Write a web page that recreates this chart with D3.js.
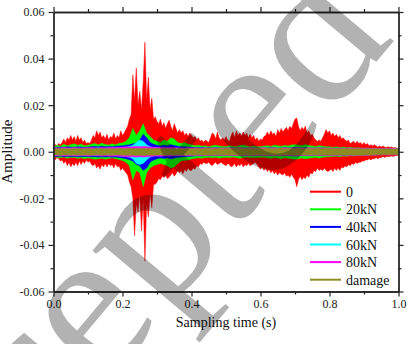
<!DOCTYPE html>
<html><head><meta charset="utf-8">
<script src="https://cdn.jsdelivr.net/npm/d3@7"></script>
<style>body{margin:0;background:#fff}svg{display:block}</style>
</head><body>
<script>
// ---- data (amplitude in units of 0.001, evenly sampled over 0..1 s) ----
const xTicks = [0, 0.2, 0.4, 0.6, 0.8, 1.0];
const yTicks = [-0.06, -0.04, -0.02, 0.00, 0.02, 0.04, 0.06];
const seriesNames = ["0", "20kN", "40kN", "60kN", "80kN", "damage"];
const seriesColors = ["#ff0000", "#00ff00", "#0000ff", "#00ffff", "#ff00ff", "#8c8c22"];

const redUpper = [4,3,2.5,3.5,3,4,5.5,4,6,5,7,5,6.5,4.5,7,5,6,4,5,3.5,
 4,3.5,5,7,6,9,7,8.5,6,7,5.5,7.5,5,6.5,6,8,5.5,7,6,9,
 7,8,9.5,11,14,16,33,22,36,20,26,18,30,47,22,32,18,23,14,15,
 13,12,14,11,12.5,10,12,13.5,11,9,12,10,8,9.5,8,9,7,8,6.5,8,
 7,6,6.5,5,6,4.5,5,4,5,4.5,4,6,8,7.5,5.5,8.5,6,5,6,5,
 6.5,5,4.5,7,8.5,6,9,7,8,6.5,8.5,7,8,6,7.5,6,7,5,6,4.5,
 5.5,5,6.5,7,8.5,7,9,7.5,8,6.5,9.5,8,10,8.5,9.5,10.5,9,11,10,12,
 14,14.5,11,9,10.5,9.5,11,8,9,7,7.5,6,5,4.5,5,4.5,6,7.5,9.5,8,
 9,7,8,6.5,7.5,6,7,5.5,6,5,4.5,5,3.5,4,4.5,3.5,4.5,3.5,4,3,
 4,3,3.5,2.5,3,2.5,3,2.5,2,2.5,2,2.5,2,1.8,2.2,1.8,2,1.6,1.8,1.5,
 1.5];
const redLower = [3,3.5,2.5,3,4,3.5,5,4,6,4.5,6.5,5,6,4.5,6,4,5.5,4,5,3.5,
 4.5,4,5.5,6,5,7,6,7.5,5.5,6.5,5,6.5,5,6,5.5,7,5,6.5,6,8,
 7,8,9,10,13,15,20,36,22,26,18,34,20,47,22,28,18,24,14,14,
 13,11.5,12,10.5,11,10,11.5,11,10,9,10.5,9.5,8,9,8,9.5,7.5,8.5,7,8,
 8,7,7.5,6,6.5,5,5.5,4.5,5,5,4.5,5.5,6,5,4.5,5.5,5,4.5,5,5.5,
 6,5,5.5,6.5,6,5,6.5,5.5,6,5,6.5,5.5,6,5,6,5.5,5,4.5,5.5,6.5,
 7.5,6.5,8,7,8.5,7.5,9,8,9.5,8.5,10,9,9.5,10,9,10.5,10,11,9.5,11,
 12,15,12,10.5,12,11,11.5,10,11,9,9.5,8,8.5,7,8,7.5,8,7,8,8.5,
 8,7.5,8.5,7,8,7,8,6.5,7,6,6.5,5.5,6,5,5.5,4.5,5,4.5,4.5,4,
 4,3.5,3.5,3,3.5,3,3,2.5,3,2.5,2.5,2,2.5,2,2,2,1.8,2,1.7,1.6,
 1.5];
const greenUpper = [2,2.8,2.4,3.2,2.6,3,3.4,2.8,3.2,2.6,
 2.8,3.2,3.5,3,3.6,3.1,2.9,3.4,3,3.6,
 3.8,4.5,6,10,7,9,12,8,6.5,5,
 4.5,4,5,4.5,6,5.5,4,3.5,4,3.2,
 3,2.6,2.8,2.4,2.6,2.2,2.6,2.8,2.5,2.3,
 2.2,2.6,2.3,2.2,2.6,2.8,2.5,2.2,2.4,2.2,
 2.2,2.4,2.6,2.3,2.8,2.6,2.4,2.7,2.5,2.9,
 3,2.8,2.6,3,2.7,2.5,2.3,2.6,2.4,2.1,
 2.1,1.9,2.1,1.8,2,1.7,1.9,1.6,1.7,1.6,
 1.5,1.6,1.4,1.5,1.4,1.3,1.4,1.3,1.3,1.2,
 1.2];
const greenLower = [2,2.4,2.6,2.3,2.8,2.5,2.4,2.9,2.6,3,
 2.7,2.9,3.2,3,2.8,3.2,2.9,2.7,3,3.3,
 3.8,4.5,6,12,8,9,15,9,7,6,
 5.5,5,5.5,6,7,6.5,5,4,3.6,3.5,
 3,2.8,2.6,2.8,2.5,2.4,2.6,2.4,2.7,2.5,
 2.4,2.6,2.3,2.5,2.8,2.5,2.3,2.6,2.4,2.5,
 2.5,2.3,2.6,2.8,2.5,2.7,2.9,2.6,2.8,3,
 3.2,3,2.7,3,2.8,2.6,2.5,2.7,2.4,2.2,
 2.2,2,1.9,2.1,1.8,1.9,1.7,1.8,1.6,1.6,
 1.5,1.5,1.4,1.4,1.3,1.3,1.2,1.2,1.2,1.1,
 1.1];
const blueUpper = [1.8,1.9,2,1.9,2.1,2,1.9,2.2,2,1.9,
 2,2.2,2.3,2.1,2.4,2.2,2.3,2.1,2.4,2.5,
 2.6,2.8,3,3.4,3.8,5,7.5,6,4,3.2,
 2.8,2.5,2.8,2.6,3,2.7,2.4,2.2,2.2,2,
 1.9,1.8,1.7,1.8,1.6,1.7,1.6,1.7,1.6,1.5,
 1.6,1.5,1.6,1.5,1.6,1.5,1.6,1.5,1.6,1.5,
 1.6,1.5,1.6,1.7,1.6,1.5,1.6,1.7,1.6,1.7,
 1.8,1.7,1.6,1.7,1.6,1.5,1.6,1.5,1.6,1.5,
 1.5,1.4,1.5,1.4,1.5,1.4,1.4,1.3,1.4,1.3,
 1.3,1.3,1.2,1.3,1.2,1.2,1.2,1.2,1.1,1.1,
 1.1];
const blueLower = [1.9,2,1.9,2.1,2,2.1,2,2.2,2.1,2,
 2.1,2.2,2.1,2.3,2.2,2.3,2.2,2.4,2.3,2.5,
 2.7,3,3.4,4,5.5,6,8,7,4.5,3.5,
 3,2.7,2.9,2.6,3,2.7,2.4,2.3,2.1,2,
 1.9,1.8,1.7,1.8,1.6,1.7,1.6,1.7,1.6,1.5,
 1.6,1.5,1.6,1.5,1.6,1.5,1.6,1.5,1.6,1.5,
 1.6,1.5,1.6,1.7,1.6,1.5,1.6,1.7,1.6,1.7,
 1.8,1.7,1.6,1.7,1.6,1.5,1.6,1.5,1.6,1.5,
 1.5,1.4,1.5,1.4,1.4,1.3,1.4,1.3,1.3,1.2,
 1.2,1.2,1.2,1.2,1.1,1.1,1.1,1.1,1.1,1,
 1];
const cyanUpper = [1.4,1.5,1.6,1.5,1.4,1.6,1.5,1.6,1.5,1.5,
 1.6,1.5,1.6,1.7,1.6,1.5,1.7,1.6,1.7,1.8,
 1.9,2,2.3,2.8,4,5,4.5,3,2.2,1.8,
 1.7,1.6,1.7,1.5,1.6,1.5,1.5,1.5,1.4,1.4,
 1.4,1.5,1.4,1.4,1.5,1.4,1.4,1.5,1.4,1.4,
 1.4,1.5,1.4,1.4,1.5,1.4,1.4,1.5,1.4,1.4,
 1.4,1.5,1.4,1.4,1.5,1.4,1.4,1.5,1.4,1.4,
 1.5,1.5,1.4,1.4,1.5,1.4,1.4,1.5,1.4,1.4,
 1.4,1.4,1.3,1.4,1.3,1.3,1.4,1.3,1.3,1.3,
 1.3,1.3,1.2,1.3,1.2,1.2,1.2,1.2,1.2,1.2,
 1.2];
const cyanLower = [1.4,1.5,1.6,1.5,1.4,1.6,1.5,1.6,1.5,1.5,
 1.6,1.5,1.6,1.7,1.6,1.5,1.7,1.6,1.7,1.8,
 1.9,2,2.4,3,5,5.5,5,3.5,2.3,1.8,
 1.7,1.6,1.7,1.5,1.6,1.5,1.5,1.5,1.4,1.4,
 1.4,1.5,1.4,1.4,1.5,1.4,1.4,1.5,1.4,1.4,
 1.4,1.5,1.4,1.4,1.5,1.4,1.4,1.5,1.4,1.4,
 1.4,1.5,1.4,1.4,1.5,1.4,1.4,1.5,1.4,1.4,
 1.5,1.5,1.4,1.4,1.5,1.4,1.4,1.5,1.4,1.4,
 1.4,1.4,1.3,1.4,1.3,1.3,1.4,1.3,1.3,1.3,
 1.3,1.3,1.2,1.3,1.2,1.2,1.2,1.2,1.2,1.2,
 1.2];
const magentaUpper = [1.6,1.7,1.6,1.8,1.7,1.6,1.8,1.7,1.6,1.7,
 1.7,1.8,1.7,1.6,1.8,1.7,1.8,1.9,1.8,1.9,
 2,2.1,2,2.2,2.3,2.1,2.3,2.2,2,1.9,
 1.8,1.9,1.8,1.7,1.8,1.7,1.6,1.7,1.6,1.7,
 1.6,1.7,1.6,1.6,1.7,1.6,1.6,1.7,1.6,1.6,
 1.6,1.7,1.6,1.6,1.7,1.6,1.6,1.7,1.6,1.6,
 1.6,1.7,1.6,1.6,1.7,1.6,1.6,1.7,1.6,1.6,
 1.7,1.7,1.6,1.6,1.7,1.6,1.6,1.7,1.6,1.6,
 1.6,1.6,1.5,1.6,1.5,1.5,1.6,1.5,1.5,1.5,
 1.5,1.5,1.4,1.5,1.4,1.4,1.4,1.4,1.4,1.4,
 1.4];
const magentaLower = [1.6,1.7,1.6,1.7,1.8,1.6,1.7,1.8,1.6,1.7,
 1.8,1.7,1.6,1.7,1.8,1.7,1.8,1.9,1.8,1.9,
 2,2.1,2.2,2.1,2.3,2.2,2.3,2.1,2,1.9,
 1.8,1.9,1.8,1.7,1.8,1.7,1.6,1.7,1.6,1.7,
 1.6,1.7,1.6,1.6,1.7,1.6,1.6,1.7,1.6,1.6,
 1.6,1.7,1.6,1.6,1.7,1.6,1.6,1.7,1.6,1.6,
 1.6,1.7,1.6,1.6,1.7,1.6,1.6,1.7,1.6,1.6,
 1.7,1.7,1.6,1.6,1.7,1.6,1.6,1.7,1.6,1.6,
 1.6,1.6,1.5,1.6,1.5,1.5,1.6,1.5,1.5,1.5,
 1.5,1.5,1.4,1.5,1.4,1.4,1.4,1.4,1.4,1.4,
 1.4];
const damageUpper = [1.3,1.4,1.3,1.4,1.4,1.3,1.4,1.4,1.3,1.4,
 1.4,1.3,1.4,1.4,1.3,1.4,1.4,1.3,1.4,1.4,
 1.4,1.4,1.5,1.4,1.5,1.4,1.5,1.4,1.4,1.4,
 1.4,1.3,1.4,1.4,1.3,1.4,1.4,1.3,1.4,1.4,
 1.3,1.4,1.4,1.3,1.4,1.4,1.3,1.4,1.4,1.3,
 1.4,1.4,1.3,1.4,1.4,1.3,1.4,1.4,1.3,1.4,
 1.4,1.3,1.4,1.4,1.3,1.4,1.4,1.3,1.4,1.4,
 1.4,1.4,1.3,1.4,1.4,1.3,1.4,1.4,1.3,1.4,
 1.3,1.4,1.3,1.3,1.4,1.3,1.3,1.4,1.3,1.3,
 1.3,1.3,1.3,1.3,1.3,1.2,1.3,1.3,1.2,1.3,
 1.3];
const damageLower = [1.4,1.4,1.5,1.4,1.4,1.5,1.4,1.4,1.5,1.4,
 1.4,1.5,1.4,1.4,1.5,1.4,1.4,1.5,1.4,1.4,
 1.5,1.5,1.5,1.5,1.6,1.5,1.6,1.5,1.5,1.5,
 1.5,1.4,1.5,1.4,1.4,1.5,1.4,1.4,1.5,1.4,
 1.4,1.5,1.4,1.4,1.5,1.4,1.4,1.5,1.4,1.4,
 1.4,1.5,1.4,1.4,1.5,1.4,1.4,1.5,1.4,1.4,
 1.4,1.5,1.4,1.4,1.5,1.4,1.4,1.5,1.4,1.4,
 1.5,1.4,1.4,1.5,1.4,1.4,1.5,1.4,1.4,1.5,
 1.4,1.4,1.4,1.4,1.4,1.4,1.4,1.4,1.4,1.4,
 1.4,1.3,1.4,1.3,1.3,1.3,1.3,1.3,1.3,1.3,
 1.3];
const uppers = [redUpper, greenUpper, blueUpper, cyanUpper, magentaUpper, damageUpper];
const lowers = [redLower, greenLower, blueLower, cyanLower, magentaLower, damageLower];
const watermarkText = "Accepted";

// ---- drawing ----
const W = 415, H = 344;
const FONT = "'Liberation Serif','Times New Roman',serif";
const svg = d3.select("body").append("svg").attr("width", W).attr("height", H)
  .attr("font-family", FONT).style("font-family", FONT);

const x = d3.scaleLinear().domain([0, 1]).range([53.5, 398.5]);
const y = d3.scaleLinear().domain([-0.06, 0.06]).range([291.5, 12]);

svg.append("clipPath").attr("id", "clip").append("rect")
  .attr("x", x(0)).attr("y", y(0.06)).attr("width", x(1) - x(0)).attr("height", y(-0.06) - y(0.06));

const gData = svg.append("g").attr("clip-path", "url(#clip)");
seriesNames.forEach((name, k) => {
  const up = uppers[k], lo = lowers[k], n = up.length;
  const area = d3.area()
    .x((d, i) => x(i / (n - 1)))
    .y1((d, i) => y(up[i] / 1000))
    .y0((d, i) => y(-lo[i] / 1000));
  gData.append("path").datum(up).attr("d", area).attr("fill", seriesColors[k])
    .attr("stroke", seriesColors[k]).attr("stroke-width", 0.5);
});

const fmtY = d => d3.format(".2f")(d).replace("\u2212", "-");
const fmtX = d => d3.format(".1f")(d);
const minorX = [0.1, 0.3, 0.5, 0.7, 0.9];
const minorY = [-0.05, -0.03, -0.01, 0.01, 0.03, 0.05];

function styleAxis(g) {
  g.attr("font-family", FONT).attr("font-size", 12);
  g.selectAll(".domain").attr("stroke", "#222").attr("stroke-width", 1.3);
  g.selectAll(".tick line").attr("stroke", "#222").attr("stroke-width", 1.2);
  g.selectAll("text").style("font-family", FONT).style("font-size", "12px").attr("fill", "#222");
}
// bottom
svg.append("g").attr("transform", `translate(0,${y(-0.06)})`)
  .call(d3.axisBottom(x).tickValues(xTicks).tickFormat(fmtX).tickSize(5).tickSizeOuter(0).tickPadding(3)).call(styleAxis);
svg.append("g").attr("transform", `translate(0,${y(-0.06)})`)
  .call(d3.axisBottom(x).tickValues(minorX).tickFormat("").tickSize(3).tickSizeOuter(0)).call(styleAxis);
// top
svg.append("g").attr("transform", `translate(0,${y(0.06)})`)
  .call(d3.axisTop(x).tickValues(xTicks).tickFormat("").tickSize(5).tickSizeOuter(0)).call(styleAxis);
svg.append("g").attr("transform", `translate(0,${y(0.06)})`)
  .call(d3.axisTop(x).tickValues(minorX).tickFormat("").tickSize(3).tickSizeOuter(0)).call(styleAxis);
// left
svg.append("g").attr("transform", `translate(${x(0)},0)`)
  .call(d3.axisLeft(y).tickValues(yTicks).tickFormat(fmtY).tickSize(5).tickSizeOuter(0).tickPadding(4)).call(styleAxis);
svg.append("g").attr("transform", `translate(${x(0)},0)`)
  .call(d3.axisLeft(y).tickValues(minorY).tickFormat("").tickSize(3).tickSizeOuter(0)).call(styleAxis);
// right
svg.append("g").attr("transform", `translate(${x(1)},0)`)
  .call(d3.axisRight(y).tickValues(yTicks).tickFormat("").tickSize(5).tickSizeOuter(0)).call(styleAxis);
svg.append("g").attr("transform", `translate(${x(1)},0)`)
  .call(d3.axisRight(y).tickValues(minorY).tickFormat("").tickSize(3).tickSizeOuter(0)).call(styleAxis);

// titles
svg.append("text").attr("x", (x(0) + x(1)) / 2).attr("y", 327).attr("text-anchor", "middle")
  .style("font-size", "14px").attr("fill", "#111").text("Sampling time (s)");
svg.append("text").attr("transform", `translate(11.5,${y(0)}) rotate(-90)`).attr("text-anchor", "middle")
  .style("font-size", "15px").attr("fill", "#111").text("Amplitude");

// legend
const leg = svg.append("g");
seriesNames.forEach((name, k) => {
  const cy = 191.7 + k * 17.6;
  leg.append("line").attr("x1", 310).attr("x2", 341).attr("y1", cy).attr("y2", cy)
    .attr("stroke", seriesColors[k]).attr("stroke-width", 2);
  leg.append("text").attr("x", 346).attr("y", cy + 5).style("font-size", "14px").attr("fill", "#111").text(name);
});

// watermark
svg.append("text").attr("transform", "translate(104,312) rotate(-50)")
  .attr("text-anchor", "middle").attr("dy", 48)
  .style("font-size", "210px").attr("fill", "#000").attr("fill-opacity", 0.3)
  .text(watermarkText);
</script>
</body></html>
